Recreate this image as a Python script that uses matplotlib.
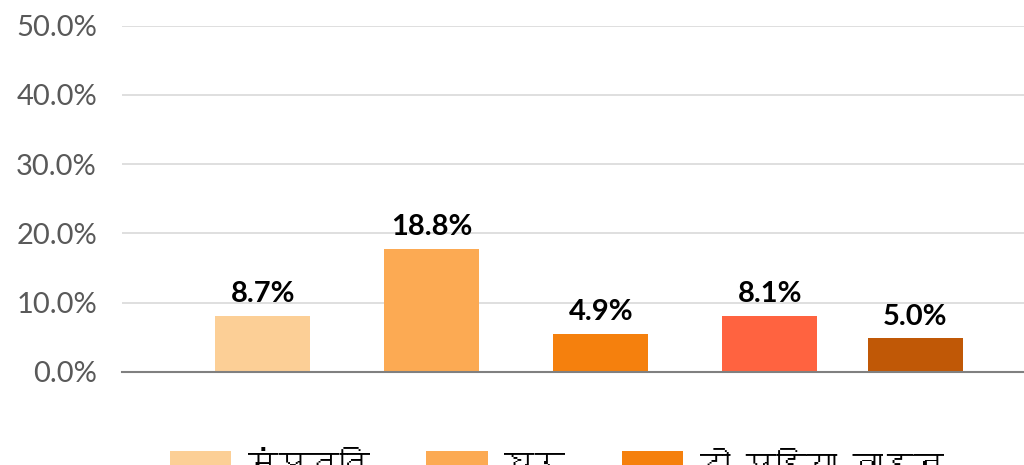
import matplotlib
matplotlib.use("Agg")
import matplotlib.pyplot as plt
from matplotlib import font_manager
from matplotlib.ft2font import FT2Font
from matplotlib.patches import Patch

# categories (legend), bar heights as drawn (%), and printed data labels
categories = ["संपत्ति", "घर", "दो पहिया वाहन", "चार पहिया वाहन", "अन्य"]
bar_values = [8.1, 17.8, 5.5, 8.1, 4.8]
bar_labels = ["8.7%", "18.8%", "4.9%", "8.1%", "5.0%"]
y_ticks = [0, 10, 20, 30, 40, 50]
colors = ["#FCCF96", "#FCAA53", "#F5800D", "#FF6340", "#C05806"]


def find_devanagari_font():
    # look for any installed font that has Devanagari glyphs
    for f in font_manager.fontManager.ttflist:
        try:
            cmap = FT2Font(f.fname).get_charmap()
        except Exception:
            continue
        if 0x0918 in cmap and 0x092A in cmap:
            return f.name
    return None


deva = find_devanagari_font()
latin = "Lato"
legend_family = [deva, "DejaVu Sans"] if deva else ["DejaVu Sans"]

fig = plt.figure(figsize=(10.24, 4.65), dpi=100)
ax = fig.add_axes([122 / 1024, 1 - 371.7 / 465, 1 - 122 / 1024, (371.7 - 25.7) / 465])

# bar centres in category units (last bar sits closer than the others)
x_pos = [0, 1, 2, 3, 3.86]
ax.bar(x_pos, bar_values, width=95 / 169, color=colors, zorder=3)

for x, v, lab in zip(x_pos, bar_values, bar_labels):
    ax.annotate(lab, (x, v), xytext=(0, 6), textcoords="offset points",
                ha="center", va="bottom", fontsize=21, fontweight="bold",
                family=latin, color="black")

ax.set_xlim(-0.834, 4.503)
ax.set_ylim(0, 50)
ax.set_yticks(y_ticks)
ax.set_yticklabels([f"{t:.1f}%" for t in y_ticks], family=latin, fontsize=21, color="#595959")
ax.tick_params(axis="y", length=0, pad=18)
ax.set_xticks([])
ax.grid(axis="y", color="#D9D9D9", linewidth=1.2, zorder=0)
for s in ["top", "right", "left"]:
    ax.spines[s].set_visible(False)
ax.spines["bottom"].set_color("#808080")
ax.spines["bottom"].set_linewidth(1.5)
ax.spines["bottom"].set_zorder(4)

# only the first legend row is inside the picture
handles = [Patch(facecolor=c) for c in colors[:3]]
fig.legend(handles, categories[:3], loc="upper left", bbox_to_anchor=(170 / 1024, 1 - 447 / 465),
           ncol=3, frameon=False, borderpad=0, borderaxespad=0,
           handlelength=2.0, handleheight=0.9, handletextpad=0.55, columnspacing=1.85,
           prop={"family": legend_family, "size": 22})

fig.savefig("out.png", dpi=100)
